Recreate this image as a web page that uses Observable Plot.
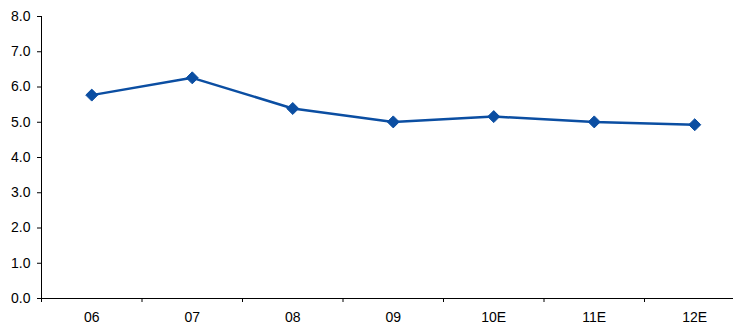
<!DOCTYPE html>
<html>
<head>
<meta charset="utf-8">
<script src="https://cdn.jsdelivr.net/npm/d3@7"></script>
<script src="https://cdn.jsdelivr.net/npm/@observablehq/plot@0.6"></script>
<style>
  html, body { margin: 0; padding: 0; background: #fff; }
  #chart svg { display: block; }
</style>
</head>
<body>
<div id="chart"></div>
<script>
// Years (E = estimate) and the plotted series
const years = ["06", "07", "08", "09", "10E", "11E", "12E"];
const values = [5.77, 6.26, 5.39, 5.01, 5.16, 5.01, 4.93];
const yTicks = [0, 1, 2, 3, 4, 5, 6, 7, 8];

const data = years.map((year, i) => ({year, value: values[i]}));

const lineColor = "#0B4EA2";
const bandStep = 100.5;

const chart = Plot.plot({
  width: 733,
  height: 327,
  marginLeft: 41,
  marginRight: 0,
  marginTop: 16,
  marginBottom: 29,
  style: {
    fontFamily: "'Liberation Sans', Arial, Helvetica, sans-serif",
    fontSize: "14px",
    color: "#000",
    background: "#fff"
  },
  x: {
    type: "band",
    domain: years,
    range: [41, 41 + bandStep * years.length],
    padding: 0,
    round: false
  },
  y: {domain: [0, 8], range: [298, 16]},
  marks: [
    // left axis line and bottom baseline
    Plot.frame({anchor: "left", stroke: "#000"}),
    Plot.ruleY([0], {stroke: "#000"}),
    // tick marks at category boundaries
    Plot.ruleX(years, {x: d => d, dx: -bandStep / 2, y1: 0, y2: 0, insetBottom: -4, stroke: "#000"}),
    Plot.axisY({ticks: yTicks, tickFormat: d3.format(".1f"), tickSize: 4, tickPadding: 7, label: null, stroke: "#000"}),
    Plot.axisX({tickSize: 0, tickPadding: 14, label: null}),
    Plot.line(data, {x: "year", y: "value", stroke: lineColor, strokeWidth: 2.5}),
    Plot.dot(data, {x: "year", y: "value", symbol: "diamond2", r: 5.4, fill: lineColor, stroke: lineColor, strokeWidth: 1})
  ]
});

document.getElementById("chart").appendChild(chart);
</script>
</body>
</html>
